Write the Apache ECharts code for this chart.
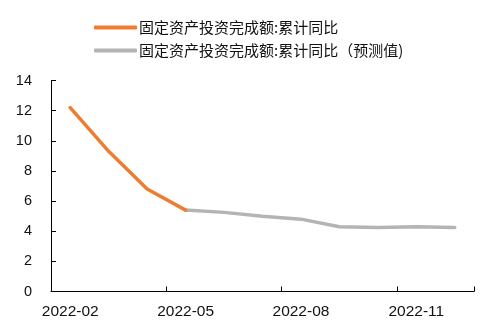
<!DOCTYPE html>
<html>
<head>
<meta charset="utf-8">
<script src="https://cdn.jsdelivr.net/npm/echarts@6/dist/echarts.min.js"></script>
<style>
  html, body { margin: 0; padding: 0; background: #fff; }
  #chart { width: 497px; height: 330px; }
</style>
</head>
<body>
<div id="chart"></div>
<script>
// Monthly categories (Jan–Feb combined, then monthly to December)
const months = ['2022-02', '2022-03', '2022-04', '2022-05', '2022-06', '2022-07',
                '2022-08', '2022-09', '2022-10', '2022-11', '2022-12'];

// Fixed-asset investment, cumulative YoY (%) — actual
const actual = [12.2, 9.3, 6.8, 5.4, null, null, null, null, null, null, null];

// Fixed-asset investment, cumulative YoY (%) — forecast
const forecast = [null, null, null, 5.4, 5.25, 5.0, 4.8, 4.3, 4.25, 4.3, 4.25];

const yTicks = { min: 0, max: 14, interval: 2 };

const seriesNames = ['固定资产投资完成额:累计同比', '固定资产投资完成额:累计同比（预测值)'];

const chart = echarts.init(document.getElementById('chart'), null, { renderer: 'canvas' });

chart.setOption({
  animation: false,
  backgroundColor: '#ffffff',
  legend: {
    orient: 'vertical',
    left: 89,
    top: 15,
    itemWidth: 43,
    itemHeight: 4,
    itemGap: 8,
    icon: 'roundRect',
    textStyle: {
      fontFamily: '"Noto Sans CJK SC", sans-serif',
      fontSize: 15,
      color: '#111',
      lineHeight: 15,
      padding: [0, 0, 0, -3]
    },
    data: seriesNames
  },
  grid: { left: 51, right: 23, top: 80.5, bottom: 38.5 },
  xAxis: {
    type: 'category',
    data: months,
    boundaryGap: true,
    axisLine: { lineStyle: { color: '#000', width: 1 } },
    axisTick: { show: true, inside: true, length: 5, interval: 2, lineStyle: { color: '#000' } },
    axisLabel: {
      interval: 2,
      margin: 12,
      color: '#111',
      fontFamily: '"Liberation Sans", Arial, sans-serif',
      fontSize: 15.5
    },
    splitLine: { show: false }
  },
  yAxis: {
    type: 'value',
    min: yTicks.min,
    max: yTicks.max,
    interval: yTicks.interval,
    axisLine: { show: true, lineStyle: { color: '#000', width: 1 } },
    axisTick: { show: true, inside: true, length: 5, lineStyle: { color: '#000' } },
    axisLabel: {
      margin: 19,
      color: '#111',
      fontFamily: '"Liberation Sans", Arial, sans-serif',
      fontSize: 14.5
    },
    splitLine: { show: false }
  },
  series: [
    {
      name: seriesNames[0],
      type: 'line',
      data: actual,
      showSymbol: false,
      symbol: 'none',
      z: 3,
      itemStyle: { color: '#ED7D31' },
      lineStyle: { color: '#ED7D31', width: 3.5, cap: 'round' }
    },
    {
      name: seriesNames[1],
      type: 'line',
      data: forecast,
      showSymbol: false,
      symbol: 'none',
      z: 2,
      itemStyle: { color: '#B4B4B4' },
      lineStyle: { color: '#B4B4B4', width: 3.5, cap: 'round' }
    }
  ]
});
</script>
</body>
</html>
